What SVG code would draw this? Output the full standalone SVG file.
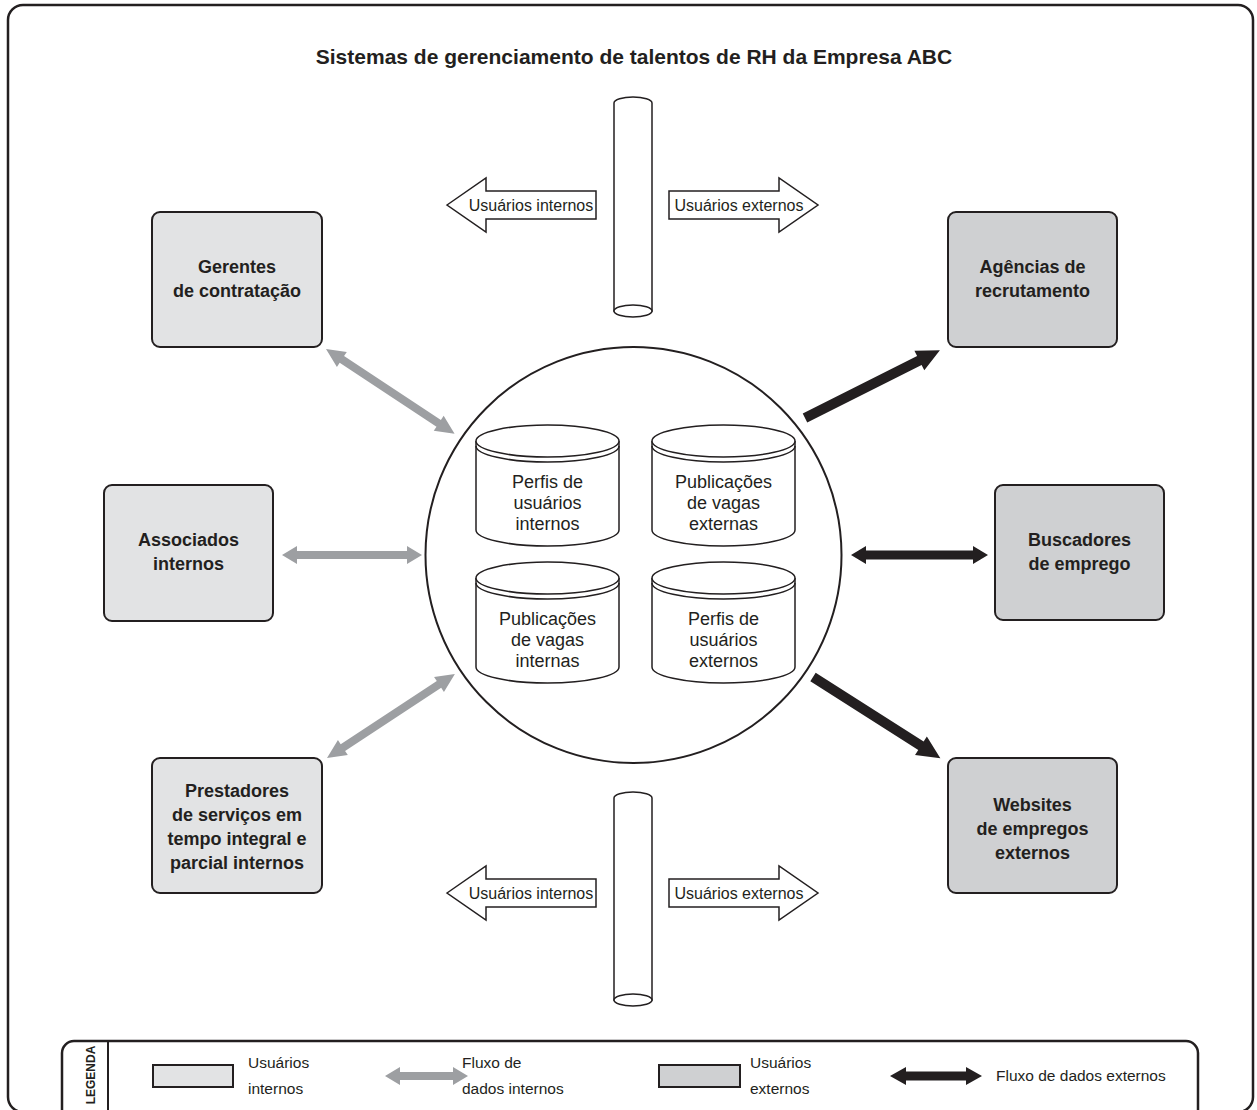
<svg xmlns="http://www.w3.org/2000/svg" width="1257" height="1110" viewBox="0 0 1257 1110">
<style>
.frame{fill:#fff;stroke:#231f20;stroke-width:2.5}
.boxi{fill:#e2e3e4;stroke:#231f20;stroke-width:2}
.boxe{fill:#cfd0d2;stroke:#231f20;stroke-width:2}
.bt{font-family:"Liberation Sans",Arial,sans-serif;font-weight:bold;font-size:18px;fill:#231f20;text-anchor:middle}
.ct{font-family:"Liberation Sans",Arial,sans-serif;font-size:18px;fill:#231f20;text-anchor:middle}
.lt{font-family:"Liberation Sans",Arial,sans-serif;font-size:15.5px;fill:#231f20}
.ut{font-family:"Liberation Sans",Arial,sans-serif;font-size:16px;fill:#231f20;text-anchor:middle}
.ol{fill:#fff;stroke:#231f20;stroke-width:1.5}
.gray{fill:#9d9fa2}
.blk{fill:#231f20}
</style>
<defs>
<g id="db">
<path class="ol" d="M-71.5,0 V89 A71.5,16 0 0,0 71.5,89 V0"/>
<ellipse class="ol" cx="0" cy="0" rx="71.5" ry="16"/>
<path d="M-71.5,5 A71.5,16 0 0,0 71.5,5" fill="none" stroke="#231f20" stroke-width="1.5"/>
</g>
</defs>
<rect class="frame" x="8" y="5" width="1245" height="1107" rx="15"/>
<text x="634" y="64" font-family="'Liberation Sans',Arial,sans-serif" font-weight="bold" font-size="21" text-anchor="middle" fill="#231f20">Sistemas de gerenciamento de talentos de RH da Empresa ABC</text>

<g id="pillar-top">
<path class="ol" d="M614,103 A19,6 0 0,1 652,103 V311 H614 Z"/>
<ellipse class="ol" cx="633" cy="311" rx="19" ry="6"/>
<polygon class="ol" points="447,205 486,178 486,191 596,191 596,219 486,219 486,232"/>
<text class="ut" x="531" y="211">Usuários internos</text>
<polygon class="ol" points="669,191 779,191 779,178 818,205 779,232 779,219 669,219"/>
<text class="ut" x="739" y="211">Usuários externos</text>
</g>

<g id="pillar-bottom">
<path class="ol" d="M614,798 A19,6 0 0,1 652,798 V1000 H614 Z"/>
<ellipse class="ol" cx="633" cy="1000" rx="19" ry="6"/>
<polygon class="ol" points="447,893 486,866 486,879 596,879 596,907 486,907 486,920"/>
<text class="ut" x="531" y="899">Usuários internos</text>
<polygon class="ol" points="669,879 779,879 779,866 818,893 779,920 779,907 669,907"/>
<text class="ut" x="739" y="899">Usuários externos</text>
</g>

<g id="hub">
<circle cx="633.5" cy="555" r="208" fill="#fff" stroke="#231f20" stroke-width="2"/>
<g id="db1"><use href="#db" x="547.5" y="441"/>
<text class="ct" x="547.5" y="488">Perfis de</text><text class="ct" x="547.5" y="509">usuários</text><text class="ct" x="547.5" y="530">internos</text></g>
<g id="db2"><use href="#db" x="723.5" y="441"/>
<text class="ct" x="723.5" y="488">Publicações</text><text class="ct" x="723.5" y="509">de vagas</text><text class="ct" x="723.5" y="530">externas</text></g>
<g id="db3"><use href="#db" x="547.5" y="578"/>
<text class="ct" x="547.5" y="625">Publicações</text><text class="ct" x="547.5" y="646">de vagas</text><text class="ct" x="547.5" y="667">internas</text></g>
<g id="db4"><use href="#db" x="723.5" y="578"/>
<text class="ct" x="723.5" y="625">Perfis de</text><text class="ct" x="723.5" y="646">usuários</text><text class="ct" x="723.5" y="667">externos</text></g>
</g>

<g id="gerentes"><rect class="boxi" x="152" y="212" width="170" height="135" rx="8"/>
<text class="bt" x="237" y="273">Gerentes</text><text class="bt" x="237" y="297">de contratação</text></g>
<g id="associados"><rect class="boxi" x="104" y="485" width="169" height="136" rx="8"/>
<text class="bt" x="188.5" y="546">Associados</text><text class="bt" x="188.5" y="570">internos</text></g>
<g id="prestadores"><rect class="boxi" x="152" y="758" width="170" height="135" rx="8"/>
<text class="bt" x="237" y="797">Prestadores</text><text class="bt" x="237" y="821">de serviços em</text><text class="bt" x="237" y="845">tempo integral e</text><text class="bt" x="237" y="869">parcial internos</text></g>
<g id="agencias"><rect class="boxe" x="948" y="212" width="169" height="135" rx="8"/>
<text class="bt" x="1032.5" y="273">Agências de</text><text class="bt" x="1032.5" y="297">recrutamento</text></g>
<g id="buscadores"><rect class="boxe" x="995" y="485" width="169" height="135" rx="8"/>
<text class="bt" x="1079.5" y="546">Buscadores</text><text class="bt" x="1079.5" y="570">de emprego</text></g>
<g id="websites"><rect class="boxe" x="948" y="758" width="169" height="135" rx="8"/>
<text class="bt" x="1032.5" y="811">Websites</text><text class="bt" x="1032.5" y="835">de empregos</text><text class="bt" x="1032.5" y="859">externos</text></g>

<g id="connectors">
<path class="gray" transform="translate(326,349) rotate(33.4)" d="M0,0 L19,-9 L19,-4 L135,-4 L135,-9 L154,0 L135,9 L135,4 L19,4 L19,9 Z"/>
<path class="gray" transform="translate(282,555)" d="M0,0 L15,-9 L15,-4 L125,-4 L125,-9 L140,0 L125,9 L125,4 L15,4 L15,9 Z"/>
<path class="gray" transform="translate(327,758) rotate(-33.3)" d="M0,0 L19,-9 L19,-4 L134,-4 L134,-9 L153,0 L134,9 L134,4 L19,4 L19,9 Z"/>
<path class="blk" transform="translate(805,418) rotate(-26.7)" d="M0,-5 L128,-5 L128,-11 L151,0 L128,11 L128,5 L0,5 Z"/>
<path class="blk" transform="translate(851,555)" d="M0,0 L15,-9 L15,-4.5 L122,-4.5 L122,-9 L137,0 L122,9 L122,4.5 L15,4.5 L15,9 Z"/>
<path class="blk" transform="translate(813,677) rotate(32.5)" d="M0,-5 L128,-5 L128,-11 L151,0 L128,11 L128,5 L0,5 Z"/>
</g>

<g id="legend">
<path d="M62,1112 V1053 A12,12 0 0,1 74,1041 H1186 A12,12 0 0,1 1198,1053 V1112" fill="#fff" stroke="#231f20" stroke-width="2.5"/>
<line x1="108" y1="1041" x2="108" y2="1112" stroke="#231f20" stroke-width="2"/>
<text transform="translate(95,1075) rotate(-90)" font-family="'Liberation Sans',Arial,sans-serif" font-weight="bold" font-size="12" text-anchor="middle" fill="#231f20">LEGENDA</text>
<rect class="boxi" x="153" y="1065" width="80" height="22"/>
<text class="lt" x="248" y="1068">Usuários</text><text class="lt" x="248" y="1094">internos</text>
<path class="gray" transform="translate(385,1076)" d="M0,0 L15,-9 L15,-4 L68,-4 L68,-9 L83,0 L68,9 L68,4 L15,4 L15,9 Z"/>
<text class="lt" x="462" y="1068">Fluxo de</text><text class="lt" x="462" y="1094">dados internos</text>
<rect class="boxe" x="659" y="1065" width="81" height="22"/>
<text class="lt" x="750" y="1068">Usuários</text><text class="lt" x="750" y="1094">externos</text>
<path class="blk" transform="translate(890,1076)" d="M0,0 L16,-9 L16,-4.5 L76,-4.5 L76,-9 L92,0 L76,9 L76,4.5 L16,4.5 L16,9 Z"/>
<text class="lt" x="996" y="1081">Fluxo de dados externos</text>
</g>
</svg>
